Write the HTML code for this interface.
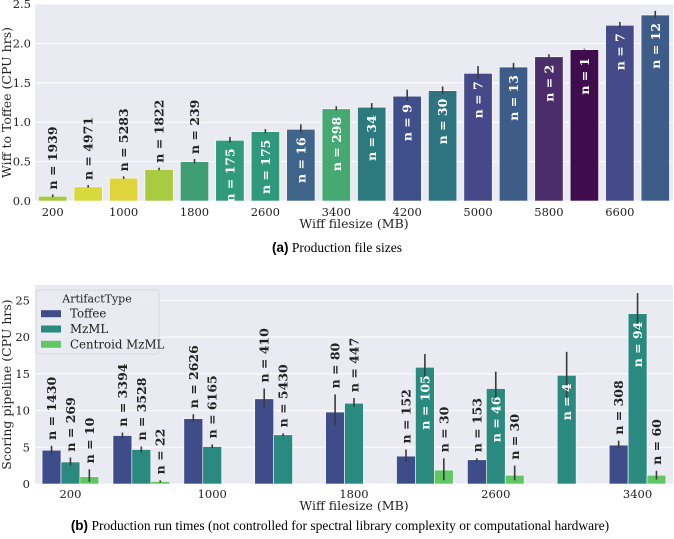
<!DOCTYPE html>
<html><head><meta charset="utf-8"><style>
body{margin:0;background:#fff;width:674px;height:539px;overflow:hidden}
svg{display:block;font-family:"DejaVu Serif","Liberation Serif",serif}
</style></head><body>
<svg id="fig" width="674" height="539" viewBox="0 0 674 539" xmlns="http://www.w3.org/2000/svg">
<text x="337" y="252" text-anchor="middle" font-size="13.5" font-family="Liberation Serif,serif"><tspan font-family="Liberation Sans,sans-serif" font-weight="bold">(a)</tspan> Production file sizes</text>
<text x="340" y="530" text-anchor="middle" font-size="13.5" font-family="Liberation Serif,serif"><tspan font-family="Liberation Sans,sans-serif" font-weight="bold">(b)</tspan> Production run times (not controlled for spectral library complexity or computational hardware)</text>
</svg>
<script>
// ---- Chart A data ----
const catsA = [200,600,1000,1400,1800,2200,2600,3000,3400,3800,4200,4600,5000,5400,5800,6200,6600,7000];
const valsA = [0.06,0.18,0.29,0.40,0.50,0.77,0.88,0.91,1.17,1.19,1.33,1.40,1.62,1.70,1.83,1.92,2.23,2.36];
const errLoA = [0.05,0.17,0.28,0.39,0.48,0.74,0.86,0.87,1.15,1.16,1.27,1.36,1.55,1.66,1.81,1.92,2.20,2.32];
const errHiA = [0.07,0.19,0.30,0.41,0.52,0.80,0.90,0.96,1.19,1.23,1.40,1.44,1.70,1.74,1.85,1.92,2.26,2.40];
const nA = [1939,4971,5283,1822,239,175,175,16,298,34,9,30,7,13,2,1,7,12];
const colA = ["#a2c83c","#d8d93a","#e0d43c","#a8cb3f","#3f9e74","#2f9b7b","#2f9a7b","#3e6489","#46a972","#2c7a7e","#3f4f8a","#2f7581","#45498a","#3e5c88","#4b2d6c","#3f0c4e","#454a88","#3e5c88"];
const ticksA = [0,0.5,1.0,1.5,2.0,2.5];
// ---- Chart B data ----
const catsB = [200,600,1000,1400,1800,2200,2600,3000,3400];
const seriesNames = ["Toffee","MzML","Centroid MzML"];
const toffee = [4.6,6.6,8.9,11.6,9.8,3.8,3.3,null,5.3];
const mzml = [3.0,4.7,5.1,6.7,11.0,15.9,13.0,14.8,23.2];
const centroid = [1.0,0.35,null,null,null,1.9,1.2,null,1.2];
const toffeeLo=[4.1,6.2,8.4,10.5,8.0,3.0,3.0,null,4.8], toffeeHi=[5.2,7.0,9.5,13.0,12.2,4.7,3.5,null,5.9];
const mzmlLo=[2.5,4.3,4.9,6.5,10.5,14.2,10.8,11.7,20.8], mzmlHi=[3.6,5.1,5.4,6.9,11.7,17.7,15.3,18.0,26.0];
const centLo=[0.3,0.2,null,null,null,0.5,0.5,null,0.6], centHi=[2.0,0.5,null,null,null,3.5,2.5,null,1.8];
const toffeeN=[1430,3394,2626,410,80,152,153,null,308];
const mzmlN=[269,3528,6165,5430,447,105,46,4,94];
const centN=[10,22,null,null,null,30,30,null,60];
const ticksB=[0,5,10,15,20,25];
const colB=["#3e4c8a","#2a8a7f","#60c764"];

const NS="http://www.w3.org/2000/svg";
const svg=document.getElementById('fig');
function mk(tag,attrs,parent,txt){const e=document.createElementNS(NS,tag);for(const k in attrs)e.setAttribute(k,attrs[k]);if(txt!==undefined)e.textContent=txt;(parent||svg).appendChild(e);return e;}

const L=35,R=673;
// Chart A
const A={top:4,bot:201,max:2.5};
const yA=v=>A.bot-(v/A.max)*(A.bot-A.top);
const bwA=(R-L)/catsA.length;
const xA=i=>L+bwA*(i+0.5);
let g=mk('g',{});


let bg=mk('rect',{x:L,y:A.top,width:R-L,height:A.bot-A.top,fill:"#eaeaf2"},g);


ticksA.forEach(t=>{
 const gl=mk('line',{x1:L,x2:R,y1:yA(t),y2:yA(t),stroke:"#fff","stroke-width":1},g);
 
 
 const tl=mk('text',{x:L-4,y:yA(t)+4,"text-anchor":"end","font-size":11.5,fill:"#222"},g,t.toFixed(1));
 
 
});
catsA.forEach((c,i)=>{
 const w=bwA*0.8,x=xA(i)-w/2;
 const r=mk('rect',{x:x,y:yA(valsA[i]),width:w,height:A.bot-yA(valsA[i]),fill:colA[i],stroke:"#fff","stroke-width":0.6},g);
 
 
 const e=mk('line',{x1:xA(i),x2:xA(i),y1:yA(errLoA[i]),y2:yA(errHiA[i])-1,stroke:"#3a3a3a","stroke-width":1.6},g);
 
 
 let t;
 if(i<5){
  const yb=yA(errHiA[i])-6;
  t=mk('text',{x:0,y:0,transform:`translate(${xA(i)+4.5},${yb}) rotate(-90)`,"text-anchor":"start","font-size":12.5,"font-weight":"bold",fill:"#222"},g,"n = "+nA[i]);
 } else {
  const yt=yA(valsA[i])+8;
  t=mk('text',{x:0,y:0,transform:`translate(${xA(i)+4.5},${yt}) rotate(-90)`,"text-anchor":"end","font-size":12.5,"font-weight":"bold",fill:"#fff"},g,"n = "+nA[i]);
 }
 
 
 if(i%2===0){
  const xl=mk('text',{x:xA(i),y:216,"text-anchor":"middle","font-size":11.5,fill:"#222"},g,c);
  
  
 }
});
let yl=mk('text',{transform:`translate(11,${(A.top+A.bot)/2}) rotate(-90)`,"text-anchor":"middle","font-size":12.5,fill:"#222"},g,"Wiff to Toffee (CPU hrs)");


let xlab=mk('text',{x:354,y:228,"text-anchor":"middle","font-size":12.5,fill:"#222"},g,"Wiff filesize (MB)");



// Chart B
const B={top:285,bot:484,max:27.1};
const yB=v=>B.bot-(v/B.max)*(B.bot-B.top);
const gw=(R-L)/catsB.length;
const xB=i=>L+gw*(i+0.5);
const bw=gw*0.8/3;
let g2=mk('g',{});


let bg2=mk('rect',{x:L,y:B.top,width:R-L,height:B.bot-B.top,fill:"#eaeaf2"},g2);


ticksB.forEach(t=>{
 const gl=mk('line',{x1:L,x2:R,y1:yB(t),y2:yB(t),stroke:"#fff","stroke-width":1},g2);
 
 
 const tl=mk('text',{x:L-5,y:yB(t)+4,"text-anchor":"end","font-size":11.5,fill:"#222"},g2,t);
 
 
});
const SV=[toffee,mzml,centroid],SL=[toffeeLo,mzmlLo,centLo],SH=[toffeeHi,mzmlHi,centHi],SN=[toffeeN,mzmlN,centN];
catsB.forEach((c,i)=>{
 for(let s=0;s<3;s++){
  const v=SV[s][i]; if(v===null)continue;
  const cx=xB(i)+(s-1)*bw;
  const r=mk('rect',{x:cx-bw/2,y:yB(v),width:bw,height:B.bot-yB(v),fill:colB[s],stroke:"#fff","stroke-width":0.6},g2);
  
  
  const e=mk('line',{x1:cx,x2:cx,y1:yB(SL[s][i]),y2:yB(SH[s][i]),stroke:"#3a3a3a","stroke-width":1.6},g2);
  
  
  const inside=(s===1&&i>=5);
  let t;
  if(inside){
   t=mk('text',{transform:`translate(${cx+4.5},${yB(v)+8}) rotate(-90)`,"text-anchor":"end","font-size":12.5,"font-weight":"bold",fill:"#fff"},g2,"n = "+SN[s][i]);
  } else {
   t=mk('text',{transform:`translate(${cx+4.5},${yB(SH[s][i])-6}) rotate(-90)`,"text-anchor":"start","font-size":12.5,"font-weight":"bold",fill:"#222"},g2,"n = "+SN[s][i]);
  }
  
  
 }
 if(i%2===0){
  const xl=mk('text',{x:xB(i),y:498,"text-anchor":"middle","font-size":11.5,fill:"#222"},g2,c);
  
  
 }
});
let yl2=mk('text',{transform:`translate(11,${(B.top+B.bot)/2}) rotate(-90)`,"text-anchor":"middle","font-size":12.5,fill:"#222"},g2,"Scoring pipeline (CPU hrs)");


let xlab2=mk('text',{x:354,y:510,"text-anchor":"middle","font-size":12.5,fill:"#222"},g2,"Wiff filesize (MB)");


// legend
let lg=mk('g',{},g2);


mk('rect',{x:36,y:290,width:123,height:64,rx:3,fill:"#eaeaf2",stroke:"#d0d0d8","stroke-width":0.8,"fill-opacity":0.85},lg);
let lt=mk('text',{x:97,y:302.5,"text-anchor":"middle","font-size":11,fill:"#222"},lg,"ArtifactType");


seriesNames.forEach((n,s)=>{
 const yc=313.7+s*15.3;
 const p=mk('rect',{x:41,y:yc-3.5,width:20,height:7,fill:colB[s]},lg);
 
 
 const t=mk('text',{x:70,y:yc+4,"font-size":11.8,fill:"#222"},lg,n);
 
 
});
</script>
</body></html>
